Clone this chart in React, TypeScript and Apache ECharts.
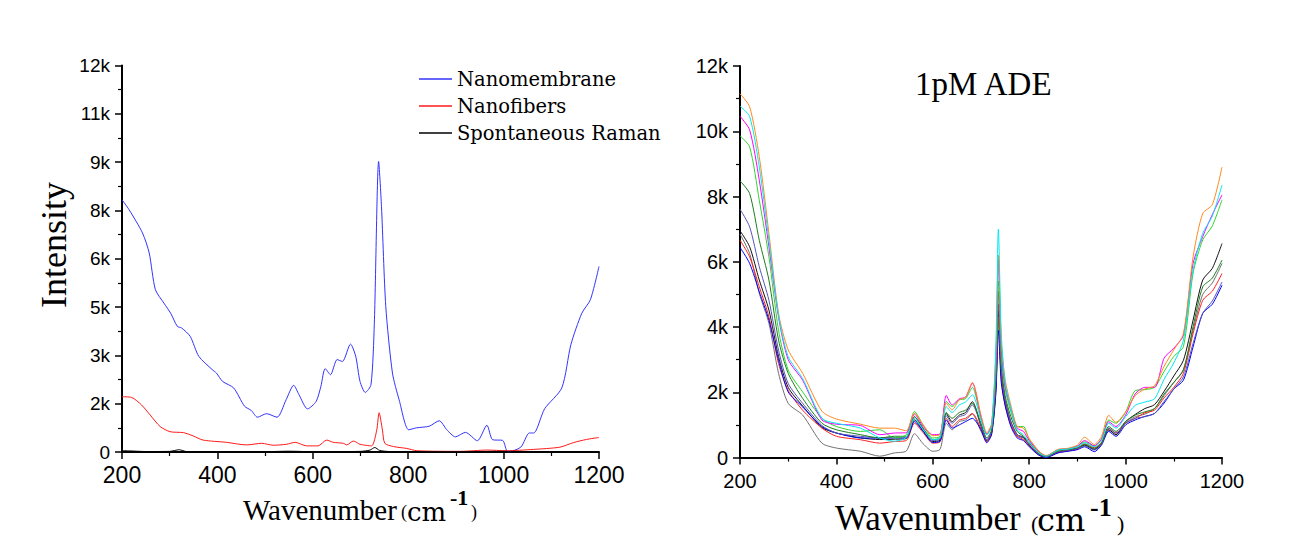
import React, { useEffect, useRef } from "react";
import * as echarts from "echarts";

// ---------- Left panel data ----------
const legendNames = ["Nanomembrane", "Nanofibers", "Spontaneous Raman"];

const membraneX = [200,215,243,257,270,288,302,316,325,343,361,389,398,411,434,457,471,484,503,525,544,560,571,589,607,617,626,637,651,662,679,690,699,710,722,729,738,744,753,767,781,801,817,844,865,881,899,920,945,965,977,998,1009,1036,1054,1063,1086,1122,1141,1164,1182,1200];
const membraneY = [7830,7520,6800,6180,5040,4620,4310,3900,3850,3590,2970,2560,2450,2190,1990,1420,1290,1080,1190,1080,1620,2070,1780,1340,1570,2040,2590,2400,2870,2810,3350,2970,2190,1850,2090,4000,9020,7620,4520,2450,1620,690,750,800,970,690,470,610,350,830,380,360,0,150,590,590,1340,1990,3330,4310,4730,5760];

const fibersX = [200,220,241,259,280,301,329,349,370,419,461,493,517,545,563,587,611,629,643,664,671,685,699,723,734,739,746,751,769,797,818,909,965,1006,1062,1118,1146,1174,1200];
const fibersY = [1715,1695,1460,1150,790,630,600,500,370,300,220,270,210,240,300,190,190,370,300,270,220,340,240,190,680,1220,680,270,170,110,40,20,60,40,80,150,290,390,450];

const ramanX = [200,215,250,300,320,335,400,500,550,600,700,720,730,740,760,800,900,1000,1100,1200];
const ramanY = [40,35,15,20,70,15,10,10,25,10,20,60,140,50,15,10,10,20,10,15];

const leftYTicks = { min: 0, max: 12000, step: 1500 };
const rightYTicks = { min: 0, max: 12000, step: 2000 };
const xTicks = { min: 200, max: 1200, step: 200 };

// ---------- Right panel data (1pM ADE) ----------
const adeX = [200,220,240,260,280,300,330,370,400,450,490,520,545,562,580,600,615,628,640,655,668,682,700,712,722,731,736,742,750,762,775,788,800,820,835,860,880,900,915,935,950,965,980,1000,1020,1040,1060,1080,1100,1120,1140,1160,1180,1200];

const adeOrange = [11150,10750,9220,6870,4420,3300,2580,1420,1180,1020,900,900,820,1360,1000,670,700,1670,1460,1770,1850,2300,1300,760,1050,3200,6200,3600,2400,1600,950,900,580,200,60,250,280,380,620,400,650,1290,1080,1400,1900,2100,2200,2800,3300,3800,6150,7480,7750,8900];
const adeCyan = [10770,10450,8910,6660,4350,3090,2420,1200,1050,900,600,500,620,1200,850,550,600,1560,1380,1610,1700,1920,1150,700,950,3500,7000,3800,2300,1500,850,700,480,150,40,230,260,330,450,330,520,1050,900,1250,1600,1700,1800,2400,2900,3600,5750,6870,7400,8350];
const adeMagenta = [10460,10040,8500,6460,4300,3000,2370,1150,1020,980,700,750,760,1330,950,700,720,1900,1610,1800,1850,2280,1250,720,1000,3000,6050,3400,2200,1500,900,800,520,180,50,240,270,350,520,360,560,1100,950,1300,1950,2150,2150,3050,3350,3750,5950,6770,7450,8050];
const adeGreen = [9860,9520,7890,6150,3900,2680,2010,1200,950,800,850,600,700,1410,1000,600,650,1720,1560,1770,1800,2150,1200,700,950,2800,5400,3100,2100,1400,950,950,560,160,50,230,260,340,480,350,580,1150,1050,1390,2050,2080,2150,2640,3100,3400,5650,6670,7100,7900];
const adeDarkGreen = [8480,8090,6660,5440,3600,2580,1810,1050,850,700,600,650,650,1250,900,550,600,1380,1200,1380,1450,1660,1050,600,850,2500,5100,2900,1900,1250,800,650,450,120,30,200,240,300,400,280,450,950,800,1100,1300,1400,1500,1950,2300,2680,4010,5230,5500,6050];
const adeSlate = [7610,7070,5850,4820,3290,2270,1660,980,750,650,600,600,600,1250,870,520,560,1280,1050,1250,1320,1610,1000,550,800,2400,4700,2700,1800,1100,700,600,400,100,20,180,220,280,350,230,400,900,750,1050,1200,1250,1350,1720,2100,2470,3500,4420,4800,5380];
const adeBlack = [6950,6460,5440,4520,3100,2150,1580,920,750,600,550,560,580,1150,820,490,530,1350,1100,1300,1380,1710,950,520,780,2300,4500,2600,1750,1100,700,620,380,90,20,170,210,270,380,250,420,850,700,1100,1320,1500,1620,2030,2500,2980,4210,5440,5800,6560];
const adeRed = [6660,6150,5230,4310,2880,2060,1450,900,650,545,440,490,520,1050,760,440,480,1200,950,1150,1200,1350,880,480,750,2200,4300,2500,1650,1000,650,550,350,80,10,150,200,260,420,300,450,900,750,1050,1200,1370,1450,1830,2150,2580,3800,4820,5100,5640];
const adeBlue = [6440,5950,5080,4210,2980,2010,1550,950,750,600,595,600,600,1100,800,460,500,1150,900,1000,1100,1200,850,450,720,2000,3900,2300,1600,950,600,520,330,70,0,140,190,240,330,180,380,800,650,1000,1150,1260,1350,1670,2100,2370,3390,4420,4700,5280];
const adeGray = [6850,6250,5030,4110,2580,1660,1300,440,290,190,40,140,200,730,420,190,250,1050,850,1100,1150,1330,800,500,700,2100,4400,2400,1600,1000,650,600,380,90,10,170,220,280,380,250,420,850,700,1050,1250,1330,1500,1900,2300,2700,3900,5000,5350,5950];

const adeSeries = [
  { name: "ADE gray", values: adeGray, color: "#707070" },
  { name: "ADE black", values: adeBlack, color: "#111111" },
  { name: "ADE red", values: adeRed, color: "#ff2020" },
  { name: "ADE blue", values: adeBlue, color: "#0000ff" },
  { name: "ADE slate", values: adeSlate, color: "#5656b8" },
  { name: "ADE darkgreen", values: adeDarkGreen, color: "#1d7d1d" },
  { name: "ADE green", values: adeGreen, color: "#2ed62e" },
  { name: "ADE magenta", values: adeMagenta, color: "#ff00ff" },
  { name: "ADE orange", values: adeOrange, color: "#ff8a1c" },
  { name: "ADE cyan", values: adeCyan, color: "#00e8f0" },
];

const pairs = (xs: number[], ys: number[]) => xs.map((x, i) => [x, ys[i]]);

const SANS = "'Liberation Sans', Arial, sans-serif";
const SERIF = "'Liberation Serif', 'Times New Roman', serif";
const WIDE_SERIF = "'DejaVu Serif', serif";

function xAxisCfg(gridIndex: number, labelSize: number, margin: number) {
  return {
    type: "value",
    gridIndex,
    min: xTicks.min,
    max: xTicks.max,
    interval: xTicks.step,
    axisLine: { show: true, onZero: false, lineStyle: { color: "#000", width: 2 } },
    axisTick: { show: true, length: 7, lineStyle: { color: "#000", width: 1.5 } },
    minorTick: { show: true, splitNumber: 2, length: 4, lineStyle: { color: "#000", width: 1.2 } },
    splitLine: { show: false },
    axisLabel: {
      fontFamily: SANS,
      fontSize: labelSize,
      color: "#000",
      margin,
      formatter: (v: number) => String(v),
    },
  };
}

function yAxisCfg(gridIndex: number, t: { min: number; max: number; step: number }, labelSize: number) {
  return {
    type: "value",
    gridIndex,
    min: t.min,
    max: t.max,
    interval: t.step,
    axisLine: { show: true, lineStyle: { color: "#000", width: 2 } },
    axisTick: { show: true, length: 7, lineStyle: { color: "#000", width: 1.5 } },
    minorTick: { show: true, splitNumber: 2, length: 4, lineStyle: { color: "#000", width: 1.2 } },
    splitLine: { show: false },
    axisLabel: {
      fontFamily: SANS,
      fontSize: labelSize,
      color: "#000",
      margin: 12,
      formatter: (v: number) => (v === 0 ? "0" : Math.round(v / 1000) + "k"),
    },
  };
}

function textEl(text: string, x: number, y: number, size: number, extra: any = {}) {
  return {
    type: "text",
    x,
    y,
    silent: true,
    rotation: extra.rotation || 0,
    style: {
      text,
      fontFamily: extra.family || SERIF,
      fontSize: size,
      fontWeight: extra.bold ? "bold" : "normal",
      fill: "#000",
      align: extra.align || "left",
      verticalAlign: "middle",
    },
  };
}

export default function App() {
  const ref = useRef<HTMLDivElement>(null);

  useEffect(() => {
    document.body.style.margin = "0";
    if (!ref.current) return;
    const chart = echarts.init(ref.current, null, { renderer: "svg" });

    const option: any = {
      animation: false,
      backgroundColor: "#ffffff",
      grid: [
        { left: 122, top: 65.5, width: 477, height: 386.5 },
        { left: 740, top: 66, width: 482, height: 391.5 },
      ],
      xAxis: [xAxisCfg(0, 23, 11), xAxisCfg(1, 20, 13)],
      yAxis: [yAxisCfg(0, leftYTicks, 19), yAxisCfg(1, rightYTicks, 20)],
      legend: {
        data: legendNames,
        orient: "vertical",
        left: 414,
        top: 64,
        itemWidth: 33,
        itemHeight: 1.5,
        itemGap: 7,
        icon: "rect",
        textStyle: { fontFamily: WIDE_SERIF, fontSize: 19.5, color: "#000" },
      },
      series: [
        {
          name: legendNames[0],
          type: "line",
          xAxisIndex: 0,
          yAxisIndex: 0,
          data: pairs(membraneX, membraneY),
          showSymbol: false,
          smooth: 0.25,
          color: "#3333ff",
          lineStyle: { width: 1, color: "#3333ff" },
          z: 3,
        },
        {
          name: legendNames[1],
          type: "line",
          xAxisIndex: 0,
          yAxisIndex: 0,
          data: pairs(fibersX, fibersY),
          showSymbol: false,
          smooth: 0.25,
          color: "#ff1a1a",
          lineStyle: { width: 1, color: "#ff1a1a" },
          z: 4,
        },
        {
          name: legendNames[2],
          type: "line",
          xAxisIndex: 0,
          yAxisIndex: 0,
          data: pairs(ramanX, ramanY),
          showSymbol: false,
          smooth: 0.25,
          color: "#000000",
          lineStyle: { width: 1, color: "#000000" },
          z: 5,
        },
        ...adeSeries.map((s) => ({
          name: s.name,
          type: "line",
          xAxisIndex: 1,
          yAxisIndex: 1,
          data: pairs(adeX, s.values),
          showSymbol: false,
          smooth: 0.25,
          color: s.color,
          lineStyle: { width: 1, color: s.color },
        })),
      ],
      graphic: [
        textEl("Intensity", 54, 245, 36, { rotation: Math.PI / 2, align: "center" }),
        // left x title
        textEl("Wavenumber", 243, 510, 29),
        textEl("(", 401, 512, 18),
        textEl("cm", 407, 512, 26, { family: WIDE_SERIF }),
        textEl("-1", 450, 497.5, 22, { bold: true }),
        textEl(")", 471, 512, 18),
        // right x title
        textEl("Wavenumber", 835, 518, 35),
        textEl("(", 1031, 523, 22),
        textEl("cm", 1037, 520, 32, { family: WIDE_SERIF }),
        textEl("-1", 1090, 507, 26, { bold: true }),
        textEl(")", 1117, 523, 22),
        // right title
        textEl("1pM ADE", 915, 84, 33),
      ],
    };

    chart.setOption(option);
    return () => chart.dispose();
  }, []);

  return <div ref={ref} style={{ width: 1311, height: 538 }} />;
}
